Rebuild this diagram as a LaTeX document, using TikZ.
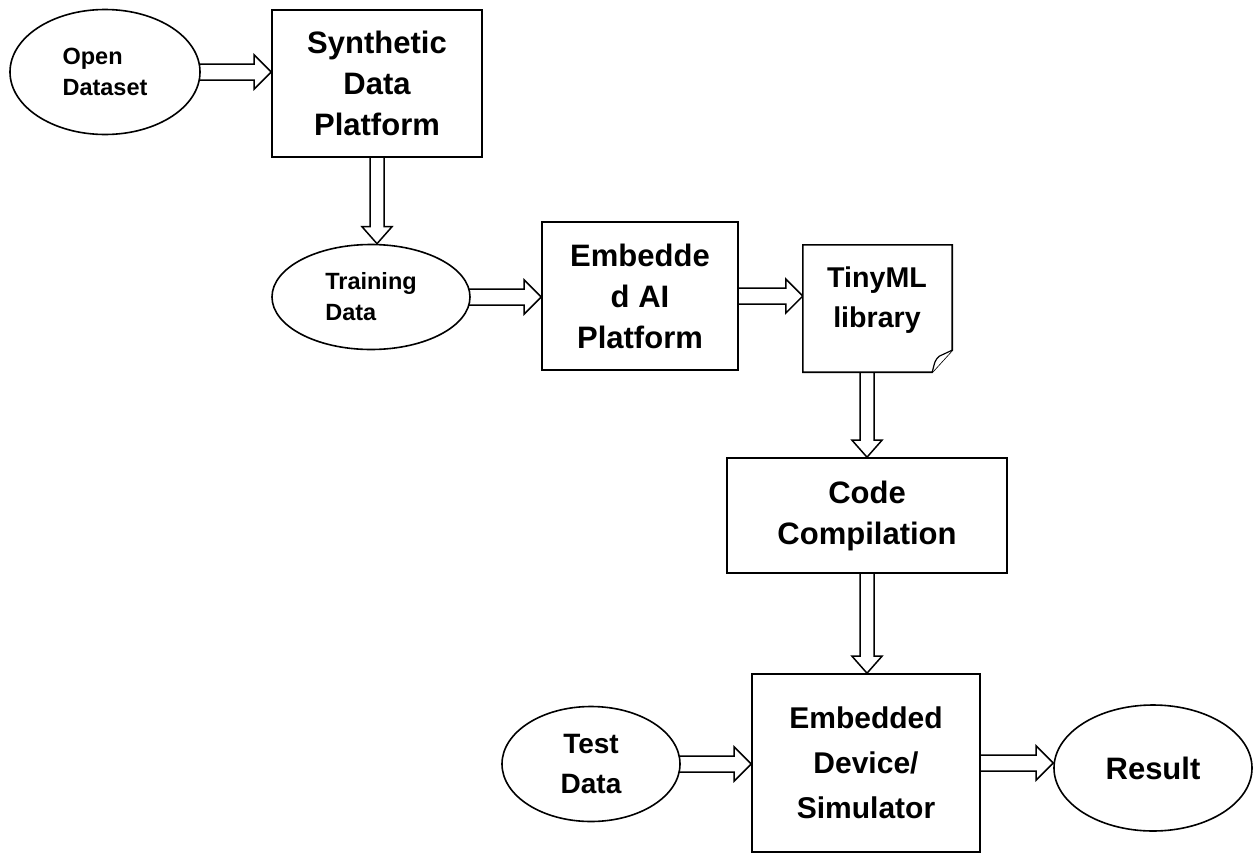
\documentclass[tikz,border=0pt]{standalone}
\usepackage{fontspec}
\setmainfont{Liberation Sans}
\usetikzlibrary{calc,backgrounds,shapes.geometric}
\tikzset{
  base/.style={draw=black, line width=1.6pt, fill=white, inner sep=0pt, font=\bfseries},
  bigtxt/.style={font=\fontsize{31}{41}\selectfont\bfseries, align=center},
  smalltxt/.style={font=\fontsize{23.5}{31}\selectfont\bfseries, align=left},
  oval/.style={base, ellipse},
  box/.style={base, rectangle},
  fatarrow/.style={draw=black, line width=1.5pt, fill=white, line join=miter},
}
\newcommand\fatH[2]{\draw[fatarrow] let \p1=#1, \p2=#2 in
  (\x1-6pt,\y1+8pt) -- (\x2-17pt,\y1+8pt) -- (\x2-17pt,\y1+17pt) -- (\x2,\y1)
  -- (\x2-17pt,\y1-17pt) -- (\x2-17pt,\y1-8pt) -- (\x1-6pt,\y1-8pt) -- cycle;}
\newcommand\fatV[2]{\draw[fatarrow] let \p1=#1, \p2=#2 in
  (\x1-7pt,\y1+6pt) -- (\x1-7pt,\y2+17pt) -- (\x1-15pt,\y2+17pt) -- (\x1,\y2)
  -- (\x1+15pt,\y2+17pt) -- (\x1+7pt,\y2+17pt) -- (\x1+7pt,\y1+6pt) -- cycle;}
\begin{document}
\begin{tikzpicture}[x=1pt,y=-1pt]
\useasboundingbox (0,0) rectangle (1254,854);
% nodes
\node[oval, minimum width=190pt, minimum height=125pt, smalltxt] (open) at (105,72) {Open\\Dataset};
\node[box, minimum width=210pt, minimum height=147pt, bigtxt] (synth) at (377,83.5) {Synthetic\\Data\\Platform};
\node[oval, minimum width=198pt, minimum height=105pt, smalltxt] (train) at (371,297) {Training\\Data};
\node[box, minimum width=196pt, minimum height=148pt, bigtxt] (eai) at (640,296) {Embedde\\d AI\\Platform};
\node[rectangle, inner sep=0pt, minimum width=149pt, minimum height=127pt] (tiny) at (877.5,308.5) {};
\draw[line width=1.6pt, fill=white, line join=miter]
  (tiny.north west) -- (tiny.north east) -- ([yshift=22pt]tiny.south east)
  -- ([xshift=-20pt]tiny.south east) -- (tiny.south west) -- cycle;
\draw[line width=1.2pt, fill=white]
  ([xshift=-20pt]tiny.south east) .. controls ([xshift=-17pt,yshift=12pt]tiny.south east) ..
  ([xshift=-13pt,yshift=16pt]tiny.south east) -- ([yshift=22pt]tiny.south east);
\node[font=\fontsize{28.6}{40}\selectfont\bfseries, align=center] (tinytxt) at (877,300) {TinyML\\library};
\node[box, minimum width=280pt, minimum height=115pt, bigtxt] (code) at (867,515.5) {Code\\Compilation};
\node[box, minimum width=228pt, minimum height=178pt, font=\fontsize{30}{45}\selectfont\bfseries, align=center] (dev) at (866,763) {Embedded\\Device/\\Simulator};
\node[oval, minimum width=178pt, minimum height=115pt, font=\fontsize{28}{40}\selectfont\bfseries, align=center] (test) at (591,764) {Test\\Data};
\node[oval, minimum width=198pt, minimum height=126pt, bigtxt] (result) at (1153,768) {Result};
% connectors
\begin{pgfonlayer}{background}
\fatH{(open.east)}{(open.east -| synth.west)}
\fatV{(synth.south)}{(synth.south |- train.north)}
\fatH{(train.east)}{(train.east -| eai.west)}
\fatH{(eai.east)}{(eai.east -| tiny.west)}
\fatV{(code.north |- tiny.south)}{(code.north)}
\fatV{(code.south)}{(code.south |- dev.north)}
\fatH{(test.east)}{(test.east -| dev.west)}
\fatH{(dev.east)}{(dev.east -| result.west)}
\end{pgfonlayer}
\end{tikzpicture}
\end{document}
